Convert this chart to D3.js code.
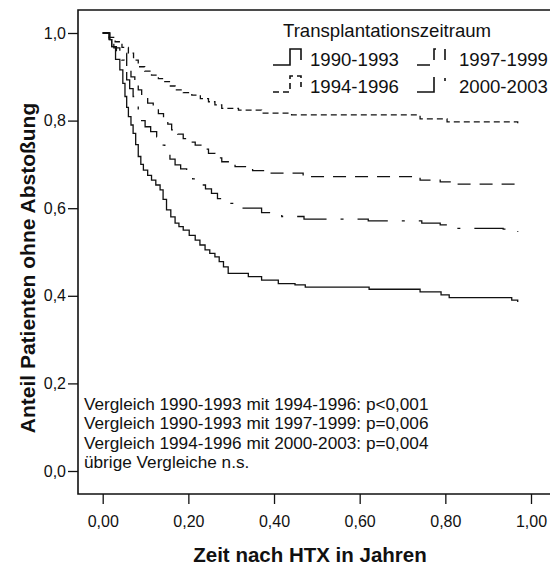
<!DOCTYPE html>
<html>

<head>
    <meta charset="utf-8">
    <script src="https://d3js.org/d3.v7.min.js"></script>
    <style>
        body { margin: 0; background: #fff; }
        svg text { font-family: "Liberation Sans", Arial, sans-serif; fill: #111; }
    </style>
</head>

<body>
    <svg id="km_svg" width="550" height="565"></svg>
    <script>
        // periods (legend order) and their Kaplan-Meier steps
        const periods = ["1990-1993", "1994-1996", "1997-1999", "2000-2003"];

        const times1990 = [0, 0.017, 0.021, 0.03, 0.040, 0.047, 0.052, 0.056, 0.060, 0.066, 0.071, 0.077, 0.083, 0.089, 0.095, 0.105, 0.114, 0.124, 0.134, 0.141, 0.149, 0.159, 0.169, 0.178, 0.188, 0.202, 0.216, 0.227, 0.239, 0.250, 0.262, 0.272, 0.282, 0.293, 0.340, 0.371, 0.41, 0.449, 0.473, 0.622, 0.741, 0.79, 0.809, 0.955, 0.969];
        const surv1990 = [1.0, 0.985, 0.969, 0.94, 0.916, 0.885, 0.855, 0.83, 0.809, 0.79, 0.771, 0.745, 0.718, 0.70, 0.687, 0.675, 0.664, 0.653, 0.642, 0.62, 0.596, 0.58, 0.566, 0.558, 0.550, 0.538, 0.527, 0.516, 0.505, 0.497, 0.489, 0.478, 0.466, 0.451, 0.444, 0.436, 0.428, 0.425, 0.420, 0.415, 0.409, 0.402, 0.396, 0.390, 0.386];

        const times1994 = [0, 0.015, 0.029, 0.045, 0.060, 0.072, 0.083, 0.098, 0.114, 0.13, 0.145, 0.158, 0.169, 0.188, 0.208, 0.228, 0.247, 0.262, 0.278, 0.317, 0.371, 0.441, 0.741, 0.804, 0.969];
        const surv1994 = [1.0, 0.99, 0.980, 0.967, 0.954, 0.938, 0.923, 0.913, 0.904, 0.896, 0.889, 0.879, 0.870, 0.864, 0.858, 0.85, 0.843, 0.836, 0.828, 0.824, 0.817, 0.813, 0.804, 0.797, 0.794];

        const times1997 = [0, 0.015, 0.026, 0.040, 0.056, 0.066, 0.075, 0.083, 0.091, 0.105, 0.118, 0.130, 0.142, 0.152, 0.161, 0.175, 0.188, 0.202, 0.216, 0.232, 0.247, 0.262, 0.278, 0.309, 0.35, 0.387, 0.468, 0.741, 0.788, 0.818, 0.969];
        const surv1997 = [1.0, 0.98, 0.966, 0.954, 0.916, 0.90, 0.885, 0.87, 0.855, 0.84, 0.828, 0.816, 0.805, 0.792, 0.779, 0.769, 0.759, 0.751, 0.744, 0.735, 0.725, 0.715, 0.706, 0.695, 0.686, 0.680, 0.672, 0.664, 0.660, 0.655, 0.648];

        const times2000 = [0, 0.015, 0.021, 0.032, 0.044, 0.050, 0.056, 0.063, 0.071, 0.077, 0.083, 0.091, 0.099, 0.112, 0.126, 0.135, 0.145, 0.157, 0.169, 0.182, 0.196, 0.21, 0.227, 0.240, 0.254, 0.268, 0.282, 0.325, 0.371, 0.418, 0.47, 0.62, 0.745, 0.788, 0.81, 0.935, 0.969];
        const surv2000 = [1.0, 0.985, 0.969, 0.955, 0.938, 0.915, 0.893, 0.873, 0.855, 0.836, 0.817, 0.80, 0.786, 0.775, 0.763, 0.744, 0.725, 0.712, 0.699, 0.69, 0.680, 0.667, 0.653, 0.644, 0.634, 0.622, 0.611, 0.600, 0.590, 0.581, 0.575, 0.571, 0.566, 0.562, 0.554, 0.552, 0.546];

        const xTicks = [0, 0.2, 0.4, 0.6, 0.8, 1.0];
        const yTicks = [0, 0.2, 0.4, 0.6, 0.8, 1.0];

        const notes = [
            "Vergleich 1990-1993 mit 1994-1996: p<0,001",
            "Vergleich 1990-1993 mit 1997-1999: p=0,006",
            "Vergleich 1994-1996 mit 2000-2003: p=0,004",
            "übrige Vergleiche n.s."
        ];

        const series = [
            { name: periods[0], times: times1990, surv: surv1990, dash: null },
            { name: periods[1], times: times1994, surv: surv1994, dash: "6,4" },
            { name: periods[2], times: times1997, surv: surv1997, dash: "13,9" },
            { name: periods[3], times: times2000, surv: surv2000, dash: "32,14,3,14" }
        ];

        const svg = d3.select("#km_svg");
        const frame = { left: 78, top: 10, right: 550, bottom: 494 };

        const de = d3.formatLocale({ decimal: ",", thousands: ".", grouping: [3], currency: ["", " €"] });

        const xScale = d3.scaleLinear().domain([0, 1]).range([102.7, 531]);
        const yScale = d3.scaleLinear().domain([0, 1]).range([471, 33]);

        // frame: left, top and bottom lines, open on the right
        svg.append("path")
            .attr("d", "M" + frame.right + "," + frame.top + "H" + frame.left + "V" + frame.bottom + "H" + frame.right)
            .attr("fill", "none")
            .attr("stroke", "#111")
            .attr("stroke-width", 1.6);

        let leftAxis = d3.axisLeft(yScale).tickValues(yTicks).tickSize(10).tickPadding(2).tickFormat(de.format(".1f"));
        let gy = svg.append("g")
            .attr("transform", "translate(" + frame.left + ",0)")
            .call(leftAxis);

        let bottomAxis = d3.axisBottom(xScale).tickValues(xTicks).tickSize(10).tickPadding(12).tickFormat(de.format(".2f"));
        let gx = svg.append("g")
            .attr("transform", "translate(0," + frame.bottom + ")")
            .call(bottomAxis);

        [gx, gy].forEach(g => {
            g.select(".domain").remove();
            g.selectAll(".tick line").attr("stroke", "#111").attr("stroke-width", 1.3);
            g.selectAll(".tick text").attr("font-size", 16).attr("fill", "#111")
                .attr("font-family", "Liberation Sans, Arial, sans-serif");
        });

        // curves
        const line = d3.line()
            .x(d => xScale(d[0]))
            .y(d => yScale(d[1]))
            .curve(d3.curveStepAfter);

        series.forEach(s => {
            const pts = s.times.map((t, i) => [t, s.surv[i]]);
            svg.append("path")
                .attr("d", line(pts))
                .attr("fill", "none")
                .attr("stroke", "#111")
                .attr("stroke-width", 1.3)
                .attr("stroke-dasharray", s.dash);
        });

        // legend
        svg.append("text")
            .attr("x", 283)
            .attr("y", 37)
            .attr("font-size", 18.6)
            .text("Transplantationszeitraum");

        const legendX = [273, 417];
        const legendTextX = [310, 459];
        series.forEach((s, i) => {
            const col = i < 2 ? 0 : 1;
            const row = i % 2;
            const x0 = legendX[col];
            const y0 = 65 + row * 27;
            svg.append("path")
                .attr("d", "M" + x0 + "," + y0 + "H" + (x0 + 17) + "V" + (y0 - 16) + "H" + (x0 + 28) + "V" + (y0 - 5))
                .attr("fill", "none")
                .attr("stroke", "#111")
                .attr("stroke-width", 1.6)
                .attr("stroke-dasharray", s.dash);
            svg.append("text")
                .attr("x", legendTextX[col])
                .attr("y", y0 + 1)
                .attr("font-size", 18.6)
                .text(s.name);
        });

        // comparison notes
        svg.append("g").selectAll("text")
            .data(notes)
            .join("text")
            .attr("x", 84)
            .attr("y", (d, i) => 410 + i * 19.3)
            .attr("font-size", 17.2)
            .text(d => d);

        // axis titles
        svg.append("text")
            .attr("text-anchor", "middle")
            .attr("x", 310)
            .attr("y", 562)
            .attr("font-size", 20.5)
            .attr("font-weight", "bold")
            .text("Zeit nach HTX in Jahren");

        svg.append("text")
            .attr("text-anchor", "middle")
            .attr("transform", "translate(35,268) rotate(-90)")
            .attr("font-size", 21)
            .attr("font-weight", "bold")
            .text("Anteil Patienten ohne Abstoßung");
    </script>

</body>

</html>
